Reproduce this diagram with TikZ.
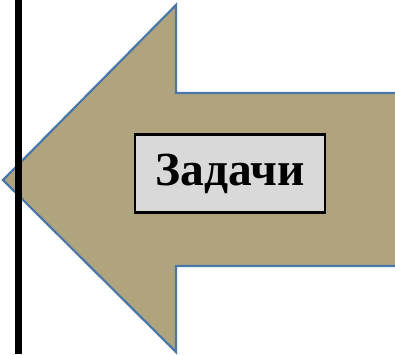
\documentclass[tikz,border=0pt]{standalone}
\usepackage{fontspec}
\setmainfont{Liberation Serif}
\usepackage{xcolor}
\usetikzlibrary{positioning,calc}
\definecolor{ArrowFill}{HTML}{B0A47F}
\definecolor{ArrowEdge}{HTML}{4A76A8}
\definecolor{BoxFill}{HTML}{D9D9D9}

\begin{document}
\begin{tikzpicture}[x=1pt,y=-1pt,
          arrowshape/.style={fill=ArrowFill, draw=ArrowEdge, line width=2.2pt, line join=miter},
          taskbox/.style={draw=black, fill=BoxFill, line width=2.8pt, minimum width=190pt,
            minimum height=78pt, inner sep=0pt, font=\fontsize{47.5}{50}\selectfont\bfseries}]
        \useasboundingbox (0,0) rectangle (395,354);
        \clip (0,0) rectangle (395,354);
        \coordinate (tip) at (3,180);
        \draw[arrowshape] (tip) -- (176,5) -- (176,93) -- (405,93) -- (405,266)
          -- (176,266) -- (176,352) -- cycle;
        \node[taskbox] (task) at (230,173.5) {Задачи};
        \draw[line width=7pt] (18.5,0) -- (18.5,354);
      \end{tikzpicture}
\end{document}
